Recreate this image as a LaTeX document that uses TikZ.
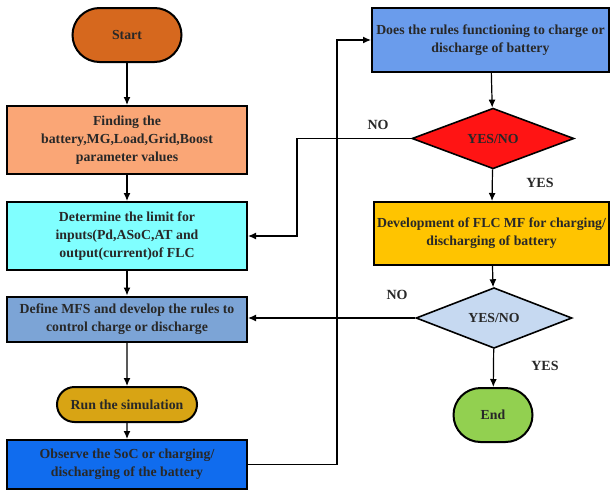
\documentclass[tikz,border=0pt]{standalone}
\usepackage{fontspec}
\setmainfont{Liberation Serif}
\usetikzlibrary{shapes.geometric,shapes.misc,arrows.meta}
\definecolor{startc}{RGB}{214,104,30}
\definecolor{findc}{RGB}{250,166,118}
\definecolor{limitc}{RGB}{128,255,255}
\definecolor{mfsc}{RGB}{124,164,214}
\definecolor{runc}{RGB}{216,164,20}
\definecolor{obsc}{RGB}{16,108,238}
\definecolor{rulesc}{RGB}{106,156,236}
\definecolor{redc}{RGB}{255,20,20}
\definecolor{flcc}{RGB}{255,196,0}
\definecolor{dec2c}{RGB}{198,217,241}
\definecolor{endc}{RGB}{146,208,80}
\definecolor{txt}{RGB}{40,40,40}
\begin{document}
\begin{tikzpicture}[x=1pt,y=-1pt,>={Latex[length=8pt,width=7pt]},
  every node/.style={font=\bfseries\fontsize{13.8}{18}\selectfont,text=txt},
  box/.style={draw=black,line width=2pt,shape=rectangle,align=center,inner sep=0pt},
  term/.style={draw=black,line width=2pt,shape=rounded rectangle,align=center,inner sep=0pt},
  dec/.style={draw=black,line width=1.6pt,shape=diamond,inner sep=0pt},
  lbl/.style={font=\bfseries\fontsize{14}{16}\selectfont}]
\useasboundingbox (0,0) rectangle (610,490);
% left column
\node [term,fill=startc,minimum width=109pt,minimum height=54pt,name=start] at (127,35){Start};
\node [box,fill=findc,minimum width=240pt,minimum height=68pt,name=finding] at (127,140){Finding the\\battery,MG,Load,Grid,Boost\\parameter values};
\node [box,fill=limitc,minimum width=240pt,minimum height=68pt,name=limit] at (127,236){Determine the limit for\\inputs(Pd,ASoC,AT and\\output(current)of FLC};
\node [box,fill=mfsc,minimum width=240pt,minimum height=45pt,name=mfs] at (127,319){Define MFS and develop the rules to\\control charge or discharge};
\node [term,fill=runc,minimum width=140pt,minimum height=35pt,name=run] at (127,404.5){Run the simulation};
\node [box,fill=obsc,minimum width=240pt,minimum height=49pt,name=observe] at (127,464.5){Observe the SoC or charging/\\discharging of the battery};
% right column
\node [box,fill=rulesc,minimum width=237pt,minimum height=64pt,name=rules] at (490.5,40){Does the rules functioning to charge or\\discharge of battery};
\node [dec,fill=redc,minimum width=162pt,minimum height=51pt,name=dec1] at (493,138.5){YES/NO};
\node [box,fill=flcc,minimum width=235pt,minimum height=63pt,name=flcmf] at (491.5,233.5){Development of FLC MF for charging/\\discharging of battery};
\node [dec,fill=dec2c,minimum width=156pt,minimum height=51pt,name=dec2] at (494,318){YES/NO};
\node [term,fill=endc,minimum width=79pt,minimum height=54pt,name=stop] at (493,415){End};
% labels
\node [lbl,name=no1] at (378,125){NO};
\node [lbl,name=yes1] at (540,183){YES};
\node [lbl,name=no2] at (397,295){NO};
\node [lbl,name=yes2] at (545,366){YES};
\coordinate (bus) at (337,0);
\coordinate (back) at (297,0);
% connectors
\draw[->,line width=1.2pt] (start)--(finding);
\draw[->,line width=1.2pt] (finding)--(limit);
\draw[->,line width=1.2pt] (limit)--(mfs);
\draw[->,line width=1.2pt] (mfs)--(run);
\draw[->,line width=1.2pt] (run)--(observe);
\draw[->,line width=1.2pt] (observe.east) -| (bus |- rules.west) -- (rules.west);
\draw[->,line width=1.2pt] (rules)--(dec1);
\draw[->,line width=1.2pt] (dec1.west) -- (back |- dec1.west) |- (limit.east);
\draw[->,line width=1.2pt] (dec1)--(flcmf);
\draw[->,line width=1.2pt] (flcmf)--(dec2);
\draw[->,line width=1.2pt] (dec2.west) -- (dec2.west -| mfs.east);
\draw[->,line width=1.2pt] (dec2)--(stop);
\end{tikzpicture}
\end{document}
